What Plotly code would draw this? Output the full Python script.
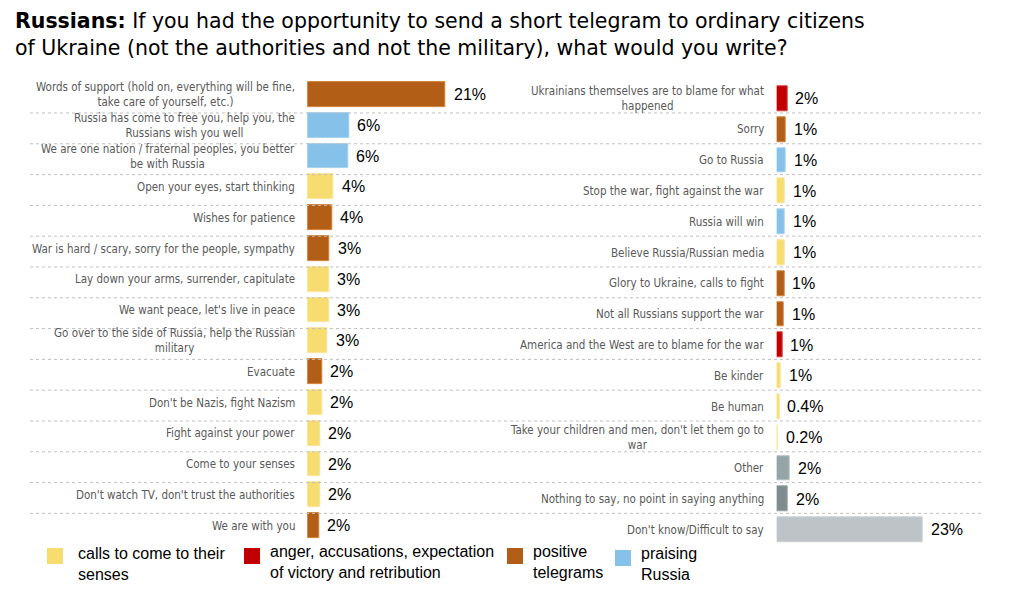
import plotly.graph_objects as go

# The page body has an 8px margin; the figure is sized to fit inside the window.
OFF = 8
W, H = 1034 - 2 * OFF, 595 - 2 * OFF

# ---------------- data ----------------
left_categories = [
    "Words of support (hold on, everything will be fine,<br>take care of yourself, etc.)",
    "Russia has come to free you, help you, the<br>Russians wish you well",
    "We are one nation / fraternal peoples, you better<br>be with Russia",
    "Open your eyes, start thinking",
    "Wishes for patience",
    "War is hard / scary, sorry for the people, sympathy",
    "Lay down your arms, surrender, capitulate",
    "We want peace, let's live in peace",
    "Go over to the side of Russia, help the Russian<br>military",
    "Evacuate",
    "Don't be Nazis, fight Nazism",
    "Fight against your power",
    "Come to your senses",
    "Don't watch TV, don't trust the authorities",
    "We are with you",
]
left_values = [21.0, 6.3, 6.2, 4.0, 3.8, 3.4, 3.3, 3.3, 3.1, 2.3, 2.3, 1.9, 1.9, 1.9, 1.8]
left_labels = ["21%", "6%", "6%", "4%", "4%", "3%", "3%", "3%", "3%", "2%", "2%", "2%", "2%", "2%", "2%"]
left_groups = ["pos", "praise", "praise", "calls", "pos", "pos", "calls", "calls", "calls",
               "pos", "calls", "calls", "calls", "calls", "pos"]

right_categories = [
    "Ukrainians themselves are to blame for what<br>happened",
    "Sorry",
    "Go to Russia",
    "Stop the war, fight against the war",
    "Russia will win",
    "Believe Russia/Russian media",
    "Glory to Ukraine, calls to fight",
    "Not all Russians support the war",
    "America and the West are to blame for the war",
    "Be kinder",
    "Be human",
    "Take your children and men, don't let them go to<br>war",
    "Other",
    "Nothing to say, no point in saying anything",
    "Don't know/Difficult to say",
]
right_values = [1.7, 1.4, 1.4, 1.3, 1.3, 1.3, 1.2, 1.1, 0.9, 0.7, 0.4, 0.2, 2.1, 1.8, 23.0]
right_labels = ["2%", "1%", "1%", "1%", "1%", "1%", "1%", "1%", "1%", "1%", "0.4%", "0.2%", "2%", "2%", "23%"]
right_groups = ["anger", "pos", "praise", "calls", "praise", "calls", "pos", "pos", "anger",
                "calls", "calls", "calls", "other", "nothing", "dk"]

group_colors = {
    "calls": "#F7DC6F",
    "anger": "#C00000",
    "pos": "#B35E16",
    "praise": "#85C1E9",
    "other": "#95A5A6",
    "nothing": "#7F8C8D",
    "dk": "#BDC3C7",
}
group_borders = {
    "calls": "#FAE49A",
    "anger": "#D94040",
    "pos": "#D38338",
    "praise": "#A6D2F0",
    "other": "#B3BFC0",
    "nothing": "#98A3A4",
    "dk": "#CDD2D5",
}

legend_keys = ["calls", "anger", "pos", "praise"]
legend_texts = ["calls to come to their<br>senses",
                "anger, accusations, expectation<br>of victory and retribution",
                "positive<br>telegrams",
                "praising<br>Russia"]

title_text = ("<b>Russians:</b> If you had the opportunity to send a short telegram to ordinary citizens"
              "<br>of Ukraine (not the authorities and not the military), what would you write?")

# ---------------- layout helpers (screen px -> paper) ----------------
def px_x(p):
    return (p - OFF) / W

def px_y(p):
    return 1 - (p - OFF) / H

TITLE_FONT = "DejaVu Sans, Verdana, sans-serif"
LABEL_FONT = "DejaVu Sans Condensed, Liberation Sans, Arial, sans-serif"
VALUE_FONT = "Liberation Sans, Arial, sans-serif"

fig = go.Figure()

left_idx = list(range(len(left_categories)))
right_idx = list(range(len(right_categories)))

fig.add_trace(go.Bar(
    x=left_values, y=left_idx, orientation="h", xaxis="x", yaxis="y",
    marker=dict(color=[group_colors[g] for g in left_groups],
                line=dict(color=[group_borders[g] for g in left_groups], width=1)),
    width=0.81, showlegend=False, hoverinfo="skip",
))
fig.add_trace(go.Bar(
    x=right_values, y=right_idx, orientation="h", xaxis="x2", yaxis="y2",
    marker=dict(color=[group_colors[g] for g in right_groups],
                line=dict(color=[group_borders[g] for g in right_groups], width=1)),
    width=0.81, showlegend=False, hoverinfo="skip",
))

annotations = []
shapes = []

# title
annotations.append(dict(
    text=title_text, xref="paper", yref="paper", x=px_x(13), y=px_y(7),
    xanchor="left", yanchor="top", align="left", showarrow=False,
    font=dict(family=TITLE_FONT, size=20.5, color="#000000"),
))

# category labels and values
for i, (cat, val, lab) in enumerate(zip(left_categories, left_values, left_labels)):
    annotations.append(dict(
        text=cat, xref="paper", yref="y", x=px_x(297), y=i,
        xanchor="right", yanchor="middle", align="center", showarrow=False,
        font=dict(family=LABEL_FONT, size=11.5, color="#595959"),
    ))
    annotations.append(dict(
        text=lab, xref="x", yref="y", x=val, y=i, xshift=6,
        xanchor="left", yanchor="middle", showarrow=False,
        font=dict(family=VALUE_FONT, size=16, color="#000000"),
    ))
for i, (cat, val, lab) in enumerate(zip(right_categories, right_values, right_labels)):
    annotations.append(dict(
        text=cat, xref="paper", yref="y2", x=px_x(766), y=i,
        xanchor="right", yanchor="middle", align="center", showarrow=False,
        font=dict(family=LABEL_FONT, size=11.5, color="#595959"),
    ))
    annotations.append(dict(
        text=lab, xref="x2", yref="y2", x=val, y=i, xshift=6,
        xanchor="left", yanchor="middle", showarrow=False,
        font=dict(family=VALUE_FONT, size=16, color="#000000"),
    ))

# dotted separators tied to left y axis
for i in range(len(left_categories)):
    shapes.append(dict(
        type="line", xref="paper", yref="y", x0=px_x(30), x1=px_x(984),
        y0=i + 0.6, y1=i + 0.6, line=dict(color="#BFBFBF", width=1, dash="dot"),
    ))

# legend (manual)
legend_sq_x = [47, 244, 507, 615]
legend_sq_y = [548, 548, 548, 550]
legend_tx_x = [76, 268, 531, 639]
legend_tx_y = [543, 541, 541, 543]
for k, key in enumerate(legend_keys):
    shapes.append(dict(
        type="rect", xref="paper", yref="paper",
        x0=px_x(legend_sq_x[k]), x1=px_x(legend_sq_x[k] + 16),
        y0=px_y(legend_sq_y[k] + 16), y1=px_y(legend_sq_y[k]),
        fillcolor=group_colors[key], line=dict(width=0),
    ))
    annotations.append(dict(
        text=legend_texts[k], xref="paper", yref="paper",
        x=px_x(legend_tx_x[k]), y=px_y(legend_tx_y[k]),
        xanchor="left", yanchor="top", align="left", showarrow=False,
        font=dict(family=VALUE_FONT, size=16, color="#000000"),
    ))

# axes geometry (screen px)
left_x0, left_x1 = 307.3, 500.0
right_x0, right_x1 = 776.7, 984.0
left_scale = 6.59   # px per percent
right_scale = 6.35
row_h = 30.8
left_top = 94.5 - row_h / 2
right_top = 98.7 - row_h / 2
n = 15

fig.update_layout(
    width=W, height=H,
    margin=dict(l=0, r=0, t=0, b=0),
    paper_bgcolor="white", plot_bgcolor="rgba(0,0,0,0)",
    bargap=0,
    xaxis=dict(domain=[px_x(left_x0), px_x(left_x1)],
               range=[0, (left_x1 - left_x0) / left_scale],
               visible=False, fixedrange=True),
    yaxis=dict(domain=[px_y(left_top + n * row_h), px_y(left_top)],
               range=[n - 0.5, -0.5], visible=False, fixedrange=True),
    xaxis2=dict(domain=[px_x(right_x0), px_x(right_x1)],
                range=[0, (right_x1 - right_x0) / right_scale],
                visible=False, fixedrange=True, anchor="y2"),
    yaxis2=dict(domain=[px_y(right_top + n * row_h), px_y(right_top)],
                range=[n - 0.5, -0.5], visible=False, fixedrange=True, anchor="x2"),
    annotations=annotations,
    shapes=shapes,
)

fig.write_html("out.html")
